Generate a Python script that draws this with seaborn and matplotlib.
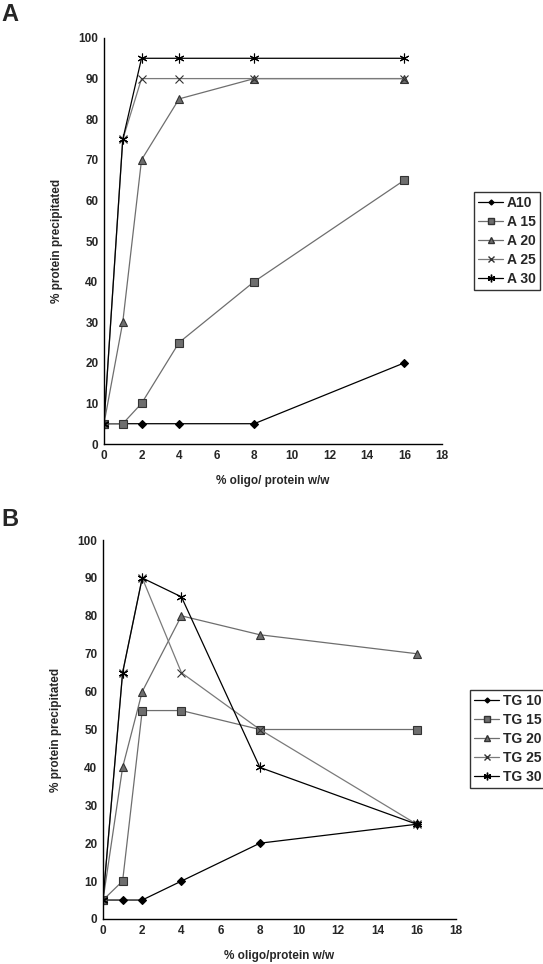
import pandas as pd
import numpy as np
import matplotlib
matplotlib.use("Agg")
import matplotlib.pyplot as plt
import seaborn as sns

# DATA
oligo = [0, 1, 2, 4, 8, 16]

a_names = ["A10", "A 15", "A 20", "A 25", "A 30"]
a10 = [5, 5, 5, 5, 5, 20]
a15 = [5, 5, 10, 25, 40, 65]
a20 = [5, 30, 70, 85, 90, 90]
a25 = [5, 75, 90, 90, 90, 90]
a30 = [5, 75, 95, 95, 95, 95]

tg_names = ["TG 10", "TG 15", "TG 20", "TG 25", "TG 30"]
tg10 = [5, 5, 5, 10, 20, 25]
tg15 = [5, 10, 55, 55, 50, 50]
tg20 = [5, 40, 60, 80, 75, 70]
tg25 = [5, 65, 90, 65, 50, 25]
tg30 = [5, 65, 90, 85, 40, 25]

x_ticks = [0, 2, 4, 6, 8, 10, 12, 14, 16, 18]
y_ticks = [0, 10, 20, 30, 40, 50, 60, 70, 80, 90, 100]

sns.set_style("white")
plt.rcParams['font.family'] = ['Liberation Sans', 'DejaVu Sans']

colors = ["black", "#6e6e6e", "#6e6e6e", "#7a7a7a", "black"]
markers = ["D", "s", "^", "x", (6, 2, 0)]
msizes = [4, 6, 6, 6, 7]

fig = plt.figure(figsize=(5.43, 9.64), dpi=100)
ax_a = fig.add_axes([0.1915, 0.5394, 0.6225, 0.4212])
ax_b = fig.add_axes([0.1897, 0.0467, 0.650, 0.3931])

panels = [
    (ax_a, a_names, [a10, a15, a20, a25, a30], "% oligo/ protein w/w", (0.873, 0.8008)),
    (ax_b, tg_names, [tg10, tg15, tg20, tg25, tg30], "% oligo/protein w/w", (0.8656, 0.2842)),
]

for ax, names, series, xlabel, leg_pos in panels:
    handles = []
    for name, vals, c, m, ms in zip(names, series, colors, markers, msizes):
        edge = "black" if c == "black" else "#333333"
        sns.lineplot(x=oligo, y=vals, color=c, marker=m, markersize=ms,
                     markeredgecolor=edge, markeredgewidth=0.8,
                     linewidth=0.9, ax=ax, label=None)
        h, = ax.plot([], [], color=c, marker=m, markersize=ms - 1.5, linewidth=0.9,
                     markeredgecolor=edge)
        handles.append(h)

    ax.set_xlim(0, 18)
    ax.set_ylim(0, 100)
    ax.set_xticks(x_ticks)
    ax.set_yticks(y_ticks)
    ax.tick_params(direction="inout", length=5, width=0.9, labelsize=8.5, pad=1.5)
    for lab in ax.get_xticklabels() + ax.get_yticklabels():
        lab.set_fontweight("bold")
    for s in ["top", "right"]:
        ax.spines[s].set_visible(False)
    for s in ["left", "bottom"]:
        ax.spines[s].set_linewidth(1.0)
        ax.spines[s].set_color("black")
    ax.set_xlabel(xlabel, fontsize=8.5, fontweight="bold", labelpad=10)
    ax.set_ylabel("% protein precipitated", fontsize=8.5, fontweight="bold", labelpad=11)

    leg = fig.legend(handles, names, loc="upper left", bbox_to_anchor=leg_pos,
                     frameon=True, fancybox=False, handlelength=1.8,
                     prop={"weight": "bold", "size": 10}, borderpad=0.3,
                     labelspacing=0.36, handletextpad=0.25, borderaxespad=0)
    leg.get_frame().set_edgecolor("black")
    leg.get_frame().set_linewidth(1.0)

fig.text(0.002, 0.985, "A", fontsize=17, fontweight="bold", va="center")
fig.text(0.002, 0.4606, "B", fontsize=17, fontweight="bold", va="center")

fig.savefig("out.png", dpi=100)
